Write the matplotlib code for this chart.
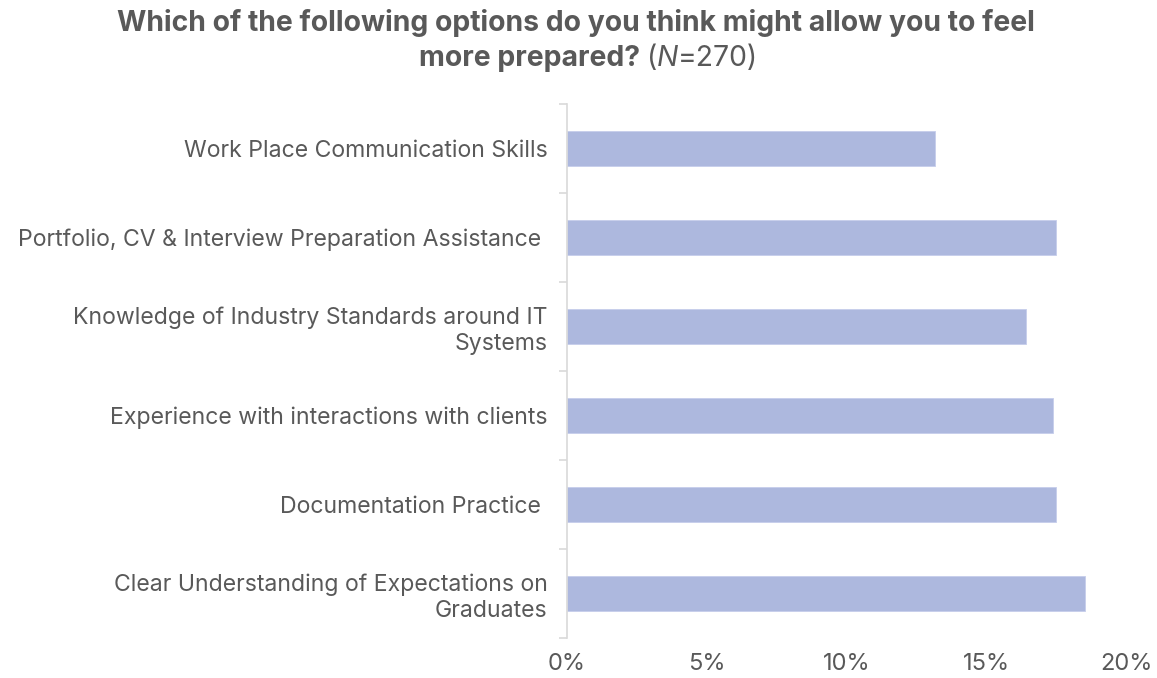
import numpy as np
import matplotlib
matplotlib.use("Agg")
from matplotlib import pyplot as plt
from matplotlib.ticker import FuncFormatter

# Opcoes e percentuais (de cima para baixo)
categorias = [
    "Work Place Communication Skills",
    "Portfolio, CV & Interview Preparation Assistance ",
    "Knowledge of Industry Standards around IT\nSystems",
    "Experience with interactions with clients",
    "Documentation Practice ",
    "Clear Understanding of Expectations on\nGraduates",
]
valores = [13.15, 17.45, 16.4, 17.35, 17.45, 18.5]
ticks_x = [0, 5, 10, 15, 20]

cor_barra = "#adb8de"
cor_texto = "#595959"
cor_eixo = "#d9d9d9"

plt.rcParams['font.family'] = ['Inter', 'DejaVu Sans']

fig = plt.figure(figsize=(11.57, 6.78), dpi=100)
ax = fig.add_axes([0.490, 0.059, 0.484, 0.7876])

pos = np.arange(len(categorias))
ax.barh(pos, valores, height=0.4, color=cor_barra, edgecolor="#c6cdeb", linewidth=0.6)
ax.set_ylim(len(categorias) - 0.5, -0.5)
ax.set_xlim(0, 20)

# eixo y: linhas de separacao entre categorias
ax.set_yticks(pos)
ax.set_yticklabels(categorias, fontsize=16.6, color=cor_texto, linespacing=1.2)
ax.set_yticks(np.arange(len(categorias) + 1) - 0.5, minor=True)
ax.tick_params(axis="y", which="major", length=0, pad=14)
ax.tick_params(axis="y", which="minor", length=6, color=cor_eixo, width=1.2)

ax.set_xticks(ticks_x)
ax.xaxis.set_major_formatter(FuncFormatter(lambda v, p: f"{v:.0f}%"))
ax.tick_params(axis="x", length=0, pad=11, labelsize=17, labelcolor=cor_texto)

for s in ["top", "right", "bottom"]:
    ax.spines[s].set_visible(False)
ax.spines["left"].set_color(cor_eixo)
ax.spines["left"].set_linewidth(1.2)

# titulo em duas linhas, com partes em estilos diferentes
fig.text(0.498, 1 - 23 / 678, "Which of the following options do you think might allow you to feel",
         ha="center", va="center", fontsize=20.4, fontweight="bold", color=cor_texto)

partes = [("more prepared? ", "bold", "normal"), ("(", "normal", "normal"),
          ("N", "normal", "italic"), ("=270)", "normal", "normal")]
fig.canvas.draw()
r = fig.canvas.get_renderer()
objs = []
for txt, peso, estilo in partes:
    t = fig.text(0, 1 - 58 / 678, txt, ha="left", va="center", fontsize=20.4,
                 fontweight=peso, fontstyle=estilo, color=cor_texto)
    objs.append(t)
largs = [t.get_window_extent(r).width for t in objs]
total = sum(largs)
x = fig.bbox.width / 2 + 10 - total / 2
for t, w in zip(objs, largs):
    t.set_x(x / fig.bbox.width)
    x += w

fig.savefig("out.png", dpi=100, facecolor="white")
